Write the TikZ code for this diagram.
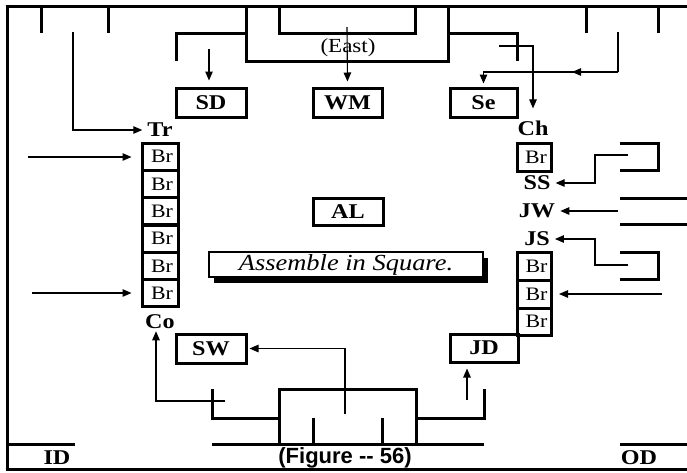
\documentclass[tikz,border=0pt]{standalone}
\usepackage{fontspec}
\setmainfont{Liberation Serif}[FakeStretch=1.15]
\setsansfont{Liberation Sans}
\usetikzlibrary{arrows.meta,shadows}
\begin{document}
\begin{tikzpicture}[x=1pt,y=-1pt,line join=miter,
  thk/.style={line width=3pt},
  thn/.style={line width=1.1pt},
  arr/.style={thn,-{Triangle[length=9pt,width=7.5pt]}},
  lblbox/.style={draw,line width=3pt,inner sep=0pt,minimum width=70pt,minimum height=29pt,font=\fontsize{21}{21}\selectfont\bfseries},
  brcell/.style={draw,line width=3pt,inner sep=0pt,minimum width=36pt,minimum height=27.3pt,font=\fontsize{19}{19}\selectfont},
  lbl/.style={inner sep=0pt,font=\fontsize{21}{21}\selectfont\bfseries},
]
\useasboundingbox (0,0) rectangle (687,472);

% frame
\draw[thk] (5.5,6) -- (690,6);
\draw[thk] (7,4.5) -- (7,470.5);
\draw[thk] (5.5,469) -- (690,469);

% top structure
\draw[thk] (41,6) -- (41,33);
\draw[thk] (108,6) -- (108,33);
\draw[thk] (586,6) -- (586,33);
\draw[thk] (658,6) -- (658,33);
\draw[thk] (176,61) -- (176,33) -- (246,33);
\draw[thk] (246,6) -- (246,61) -- (448,61) -- (448,6);
\draw[thk] (279,6) -- (279,33) -- (415,33) -- (415,6);
\draw[thk] (448,33) -- (517,33) -- (517,61);

% right structure
\draw[thk] (620,143) -- (658,143) -- (658,170) -- (620,170);
\draw[thk] (620,252) -- (658,252) -- (658,279) -- (620,279);
\draw[thk] (620,198) -- (690,198);
\draw[thk] (620,224) -- (690,224);

% bottom structure
\draw[thk] (212,389) -- (212,418) -- (279,418);
\draw[thk] (279,444) -- (279,389) -- (416,389) -- (416,444);
\draw[thk] (416,418) -- (484,418) -- (484,389);
\draw[thk] (313,418) -- (313,444);
\draw[thk] (382,418) -- (382,444);
\draw[thk] (212,444) -- (484,444);
\draw[thk] (7,444) -- (75,444);
\draw[thk] (620,444) -- (690,444);

% boxes
\node[lblbox] (SD) at (211,102.5) {SD};
\node[lblbox,minimum width=69pt] (WM) at (347.5,102.5) {WM};
\node[lblbox,minimum width=67pt] (Se) at (483.5,102.5) {Se};
\node[lblbox,minimum height=27pt] (AL) at (348,211.5) {AL};
\node[lblbox] (SW) at (211,348.5) {SW};
\node[lblbox,minimum width=68pt,minimum height=28pt] (JD) at (484,348) {JD};

\node[draw,line width=1.5pt,fill=white,minimum width=274pt,minimum height=25pt,inner sep=0pt,
  font=\fontsize{23}{23}\selectfont\itshape,
  drop shadow={shadow xshift=5pt,shadow yshift=-6pt,fill=black,opacity=1}] (AS) at (346,264.5) {Assemble in Square.};

\foreach \i in {1,...,6}
  \node[brcell] (bl\i) at (160,{143+27.33*(\i-0.5)}) {\hspace*{4pt}Br};
\node[brcell,minimum width=34pt,minimum height=28pt] (br0) at (534,157) {\hspace*{4pt}Br};
\node[brcell,minimum width=34pt,minimum height=28pt] (br1) at (534.5,266) {\hspace*{4pt}Br};
\node[brcell,minimum width=34pt,minimum height=28pt] (br2) at (534.5,294) {\hspace*{4pt}Br};
\node[brcell,minimum width=34pt,minimum height=27pt] (br3) at (534.5,321.5) {\hspace*{4pt}Br};

% labels
\node[lbl] (Tr) at (160,130) {Tr};
\node[lbl] (Co) at (160,322) {Co};
\node[lbl] (Ch) at (533,128) {Ch};
\node[lbl] (SS) at (537,183) {SS};
\node[lbl] (JW) at (537,211) {JW};
\node[lbl] (JS) at (537,239) {JS};
\node[lbl] (ID) at (57,458) {ID};
\node[lbl] (OD) at (639,458) {OD};
\node[inner sep=0pt,font=\fontsize{22}{22}\selectfont\sffamily\bfseries] (fig) at (345,458) {(Figure -{}- 56)};
\node[inner sep=0pt,font=\fontsize{20}{20}\selectfont] (east) at (348,48) {(East)};

% connectors
\coordinate (trs) at (73,32);
\draw[arr,shorten >=5pt] (trs) |- (Tr.west);
\coordinate (sds) at (209,49);
\draw[arr,shorten >=6pt] (sds) -- (sds |- SD.north);
\coordinate (wms) at (347,27);
\draw[arr,shorten >=5pt] (wms) -- (WM.north);
\coordinate (ses) at (618,32);
\coordinate (sec) at (618,72);
\coordinate (sem) at (572,72);
\draw[thn] (ses) -- (sec);
\draw[arr,shorten >=3pt] (sec) -| (Se.north);
\draw[arr] (sec) -- (sem);
\coordinate (chs) at (499,46);
\coordinate (chc) at (533,46);
\draw[arr,shorten >=12pt] (chs) -- (chc) -- (chc |- Ch.north);
\coordinate (l1) at (28,157);
\draw[arr,shorten >=9pt] (l1) -- (l1 -| bl1.west);
\coordinate (l6) at (32,293);
\draw[arr,shorten >=9pt] (l6) -- (l6 -| bl6.west);
\coordinate (sss) at (628,155);
\coordinate (ssc) at (595,155);
\draw[arr,shorten >=5pt] (sss) -- (ssc) |- (SS.east);
\coordinate (jws) at (618,211);
\draw[arr,shorten >=5pt] (jws) -- (jws -| JW.east);
\coordinate (jss) at (628,265);
\coordinate (jsc) at (595,265);
\draw[arr,shorten >=5pt] (jss) -- (jsc) |- (JS.east);
\coordinate (brs) at (662,294);
\draw[arr,shorten >=6pt] (brs) -- (brs -| br2.east);
\coordinate (cos) at (225,401);
\coordinate (coc) at (156,401);
\draw[arr,shorten >=2pt] (cos) -- (coc) -- (coc |- Co.south);
\coordinate (sws) at (345,414);
\draw[arr,shorten >=2pt] (sws) |- (SW.east);
\coordinate (jds) at (467,400);
\draw[arr,shorten >=5pt] (jds) -- (jds |- JD.south);
\end{tikzpicture}
\end{document}
